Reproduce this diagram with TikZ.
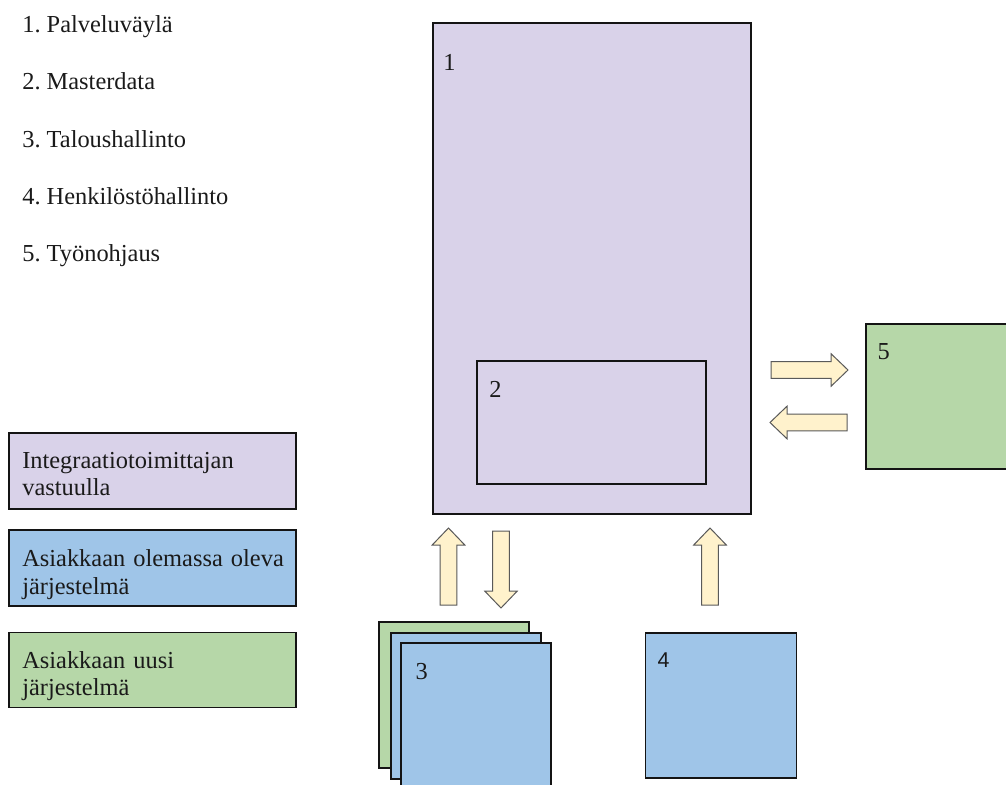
\documentclass[tikz,border=0pt]{standalone}
\usepackage{fontspec}
\setmainfont{Liberation Serif}
\newfontfamily\numsans{Liberation Sans}
\frenchspacing
\definecolor{busfill}{HTML}{D9D2E9}
\definecolor{oldfill}{HTML}{9FC5E8}
\definecolor{newfill}{HTML}{B6D7A8}
\definecolor{arrowfill}{HTML}{FFF2CC}
\definecolor{arrowline}{HTML}{595959}
\definecolor{boxline}{HTML}{141414}
\definecolor{ink}{HTML}{1A1A1A}
\begin{document}
\begin{tikzpicture}[x=1pt,y=-1pt,
  every node/.style={inner sep=0pt, outer sep=0pt, text=ink,
    font=\fontsize{24.4}{27.3}\selectfont},
  sysbox/.style={rectangle, draw=boxline, line width=1.8pt, anchor=north west,
    minimum width=#1},
  sysbox/.default=150pt,
  tall/.style={minimum height=#1},
  numlabel/.style={anchor=base west},
  listtext/.style={anchor=base west},
  legendtext/.style={anchor=base west, text width=270pt, align=left},
  arrowbody/.style={draw=arrowline, fill=arrowfill, line width=1pt, line join=miter},
  blockarrow/.pic={\path[arrowbody] (0,-8.3) -- (60,-8.3) -- (60,-16.3) -- (77,0)
    -- (60,16.3) -- (60,8.3) -- (0,8.3) -- cycle;}
]
\useasboundingbox (0,0) rectangle (1006,784);

% numbered list of the systems
\node[listtext] (item1) at (22.3,32.5)   {1. Palveluväylä};
\node[listtext] (item2) at (22.3,89.75)  {2. Masterdata};
\node[listtext] (item3) at (22.3,147)    {3. Taloushallinto};
\node[listtext] (item4) at (22.3,204.25) {4. Henkilöstöhallinto};
\node[listtext] (item5) at (22.3,261.5)  {5. Työnohjaus};

% service bus with master data inside
\node[sysbox=318pt, tall=491pt, fill=busfill] (bus) at (433,23.3) {};
\node[sysbox=229pt, tall=123pt, fill=busfill] (master) at (477,361) {};
\node[numlabel] (busnum) at (443.3,70.7) {1};
\node[numlabel] (masternum) at (489.3,397.3) {2};

% work management system on the right
\node[sysbox, tall=145pt, fill=newfill] (work) at (866,324) {};
\node[numlabel] (worknum) at (877.5,359.3) {5};

% exchange arrows
\pic at (771,370)   {blockarrow};
\pic[rotate=180] at (847,422.5) {blockarrow};
\pic[rotate=90]  at (448.5,605) {blockarrow};
\pic[rotate=-90] at (501,531)   {blockarrow};
\pic[rotate=90]  at (710,605)   {blockarrow};

% financial systems as a stack
\node[sysbox, tall=146pt, fill=newfill] (fin1) at (379.3,621.7) {};
\node[sysbox, tall=146pt, fill=oldfill] (fin2) at (390.7,632.7) {};
\node[sysbox, tall=146pt, fill=oldfill] (fin3) at (401,643) {};
\node[numlabel] (finnum) at (415.6,679.3) {3};

% HR system
\node[sysbox=151pt, tall=145.6pt, fill=oldfill] (hr) at (645.5,632.7) {};
\node[numlabel, font=\numsans\fontsize{21.4}{24}\selectfont] (hrnum) at (657.5,667) {4};

% legend
\node[sysbox=287pt, tall=76pt, fill=busfill] (legbus) at (9.3,433.3) {};
\node[sysbox=287pt, tall=76pt, fill=oldfill] (legold) at (9.3,530) {};
\node[sysbox=287pt, tall=75pt, fill=newfill] (legnew) at (9.3,632.5) {};
\node[legendtext] (legbustext) at (22.3,468.3) {Integraatiotoimittajan\\vastuulla};
\node[legendtext] (legoldtext) at (22.3,566.7) {Asiakkaan olemassa oleva\\järjestelmä};
\node[legendtext] (legnewtext) at (22.3,668)   {Asiakkaan uusi\\järjestelmä};
\end{tikzpicture}
\end{document}
